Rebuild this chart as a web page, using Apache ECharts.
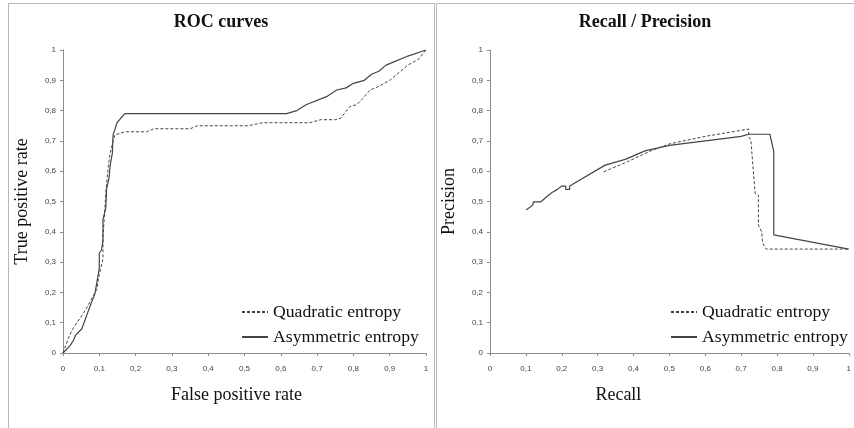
<!DOCTYPE html>
<html><head><meta charset="utf-8">
<script src="https://cdn.jsdelivr.net/npm/echarts@6/dist/echarts.min.js"></script>
<style>html,body{margin:0;padding:0;background:#fff}#c{width:854px;height:428px}</style>
</head><body><div id="c"></div>
<script>
// ROC curves
const rocQuadFpr = [0, 0.015, 0.025, 0.038, 0.056, 0.075, 0.093, 0.1, 0.11, 0.11, 0.114, 0.118, 0.125, 0.13, 0.138, 0.143, 0.17, 0.23, 0.25, 0.35, 0.37, 0.51, 0.55, 0.68, 0.71, 0.75, 0.765, 0.79, 0.81, 0.826, 0.846, 0.87, 0.9, 0.93, 0.95, 0.98, 1];
const rocQuadTpr = [0, 0.05, 0.075, 0.1, 0.13, 0.17, 0.21, 0.26, 0.31, 0.38, 0.45, 0.53, 0.62, 0.66, 0.70, 0.72, 0.73, 0.73, 0.74, 0.74, 0.75, 0.75, 0.76, 0.76, 0.77, 0.77, 0.775, 0.813, 0.82, 0.84, 0.868, 0.88, 0.9, 0.93, 0.95, 0.97, 1];
const rocAsymFpr = [0, 0.02, 0.029, 0.034, 0.052, 0.07, 0.088, 0.1, 0.1, 0.106, 0.11, 0.11, 0.118, 0.12, 0.127, 0.13, 0.136, 0.138, 0.149, 0.17, 0.616, 0.644, 0.671, 0.726, 0.754, 0.78, 0.8, 0.83, 0.85, 0.87, 0.89, 0.91, 0.95, 1];
const rocAsymTpr = [0, 0.025, 0.042, 0.058, 0.08, 0.14, 0.196, 0.28, 0.33, 0.34, 0.37, 0.44, 0.48, 0.54, 0.58, 0.62, 0.66, 0.72, 0.76, 0.79, 0.79, 0.80, 0.82, 0.846, 0.868, 0.875, 0.89, 0.90, 0.92, 0.93, 0.95, 0.96, 0.98, 1];
// Recall / Precision
const prQuadRecall = [0.317, 0.377, 0.45, 0.5, 0.6, 0.7, 0.721, 0.721, 0.727, 0.739, 0.748, 0.748, 0.757, 0.76, 0.77, 1];
const prQuadPrecision = [0.598, 0.628, 0.668, 0.69, 0.715, 0.735, 0.739, 0.714, 0.703, 0.527, 0.521, 0.422, 0.40, 0.362, 0.343, 0.343];
const prAsymRecall = [0.101, 0.119, 0.121, 0.142, 0.161, 0.173, 0.188, 0.2, 0.211, 0.211, 0.222, 0.222, 0.321, 0.377, 0.432, 0.5, 0.6, 0.7, 0.721, 0.78, 0.791, 0.791, 1];
const prAsymPrecision = [0.472, 0.488, 0.499, 0.499, 0.519, 0.530, 0.540, 0.551, 0.551, 0.540, 0.540, 0.551, 0.62, 0.639, 0.667, 0.685, 0.70, 0.715, 0.722, 0.722, 0.665, 0.39, 0.343];
const seriesNames = ['Quadratic entropy', 'Asymmetric entropy'];
const chartTitles = ['ROC curves', 'Recall / Precision'];
const axisNames = {rocX: 'False positive rate', rocY: 'True positive rate', prX: 'Recall', prY: 'Precision'};

const zip = (a, b) => a.map((v, i) => [v, b[i]]);
const fmt = v => v === 0 ? '0' : v === 1 ? '1' : v.toFixed(1).replace('.', ',');
const serif = 'Liberation Serif';
const lineCol = '#444';

function xAxis(grid, name, shiftLeft) {
  return {
    type: 'value', gridIndex: grid, min: 0, max: 1, interval: 0.1,
    name: name, nameLocation: 'middle', nameGap: 33,
    nameTextStyle: {fontFamily: serif, fontSize: 18, color: '#111', padding: [0, shiftLeft * 2, 0, 0]},
    axisLine: {lineStyle: {color: '#8c8c8c'}},
    axisTick: {show: true, length: 3, lineStyle: {color: '#8c8c8c'}},
    axisLabel: {formatter: fmt, fontFamily: 'Liberation Sans', fontSize: 8, color: '#444', margin: 12},
    splitLine: {show: false}
  };
}
function yAxis(grid, name, gap) {
  return {
    type: 'value', gridIndex: grid, min: 0, max: 1, interval: 0.1,
    name: name, nameLocation: 'middle', nameGap: gap,
    nameTextStyle: {fontFamily: serif, fontSize: 18, color: '#111'},
    axisLine: {show: true, lineStyle: {color: '#8c8c8c'}},
    axisTick: {show: true, length: 3, lineStyle: {color: '#8c8c8c'}},
    axisLabel: {formatter: fmt, fontFamily: 'Liberation Sans', fontSize: 8, color: '#444', margin: 7},
    splitLine: {show: false}
  };
}
function ser(name, idx, data, dashed) {
  return {
    type: 'line', name: name, xAxisIndex: idx, yAxisIndex: idx, data: data,
    symbol: 'none', showSymbol: false,
    lineStyle: {color: lineCol, width: dashed ? 1 : 1.2, type: dashed ? [3, 2] : 'solid'},
    itemStyle: {color: lineCol}
  };
}
const legendBase = {
  orient: 'vertical', itemWidth: 26, itemHeight: 12, itemGap: 7, padding: 0,
  textStyle: {fontFamily: serif, fontSize: 17.7, color: '#111'},
  itemStyle: {opacity: 0},
  selectedMode: false, data: seriesNames
};

const chart = echarts.init(document.getElementById('c'));
chart.setOption({
  animation: false,
  backgroundColor: '#fff',
  graphic: [
    {type: 'rect', shape: {x: 8.5, y: 3.5, width: 426, height: 440}, style: {fill: 'none', stroke: '#b8b8b8', lineWidth: 1}},
    {type: 'rect', shape: {x: 436.5, y: 3.5, width: 430, height: 440}, style: {fill: 'none', stroke: '#b8b8b8', lineWidth: 1}},
    {type: 'text', x: 221, y: 22, style: {text: chartTitles[0], font: 'bold 18px "Liberation Serif"', fill: '#111', textAlign: 'center', textVerticalAlign: 'middle'}},
    {type: 'text', x: 645, y: 22, style: {text: chartTitles[1], font: 'bold 18px "Liberation Serif"', fill: '#111', textAlign: 'center', textVerticalAlign: 'middle'}}
  ],
  grid: [
    {left: 63, top: 50, width: 363, height: 303},
    {left: 490, top: 50, width: 363, height: 303}
  ],
  xAxis: [xAxis(0, axisNames.rocX, 8), xAxis(1, axisNames.prX, 51)],
  yAxis: [yAxis(0, axisNames.rocY, 32), yAxis(1, axisNames.prY, 32)],
  legend: [
    Object.assign({left: 241, top: 303}, legendBase),
    Object.assign({left: 670, top: 303}, legendBase)
  ],
  series: [
    ser(seriesNames[0], 0, zip(rocQuadFpr, rocQuadTpr), true),
    ser(seriesNames[1], 0, zip(rocAsymFpr, rocAsymTpr), false),
    ser(seriesNames[0], 1, zip(prQuadRecall, prQuadPrecision), true),
    ser(seriesNames[1], 1, zip(prAsymRecall, prAsymPrecision), false)
  ]
});
</script></body></html>
